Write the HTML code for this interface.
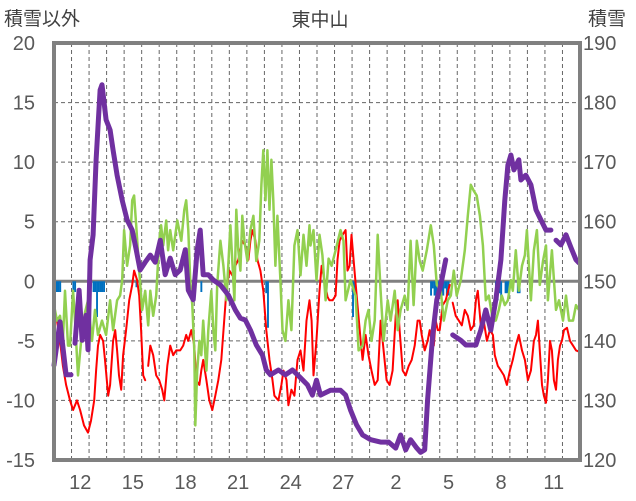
<!DOCTYPE html>
<html><head><meta charset="utf-8"><style>
html,body{margin:0;padding:0;background:#fff;}
svg{display:block;font-family:"Liberation Sans","Noto Sans CJK JP",sans-serif;}
</style></head><body>
<svg id="chart" width="636" height="501" viewBox="0 0 636 501" xmlns="http://www.w3.org/2000/svg">
<text x="320" y="26" font-size="19" fill="#404040" text-anchor="middle">東中山</text>
<text x="4" y="25" font-size="19" fill="#404040">積雪以外</text>
<text x="588" y="25" font-size="19" fill="#404040">積雪</text>
<g id="grid"></g>
<g id="marks"></g>
<g id="axes"></g>
</svg>
<script>
const dayLabels=["12","15","18","21","24","27","2","5","8","11"];
const dayLabelIdx=[1,4,7,10,13,16,19,22,25,28];
const leftTicks=[20,15,10,5,0,-5,-10,-15];
const rightTicks=[190,180,170,160,150,140,130,120];

const snowT=[0,0.34,0.69,0.97,null,1.2,1.43,1.6,1.83,1.94,2.06,2.23,2.4,2.63,2.74,2.97,3.2,3.37,3.6,3.89,4.17,4.46,4.69,4.91,5.2,5.49,5.77,6.06,6.34,6.63,6.91,7.2,7.49,7.66,7.94,8.17,8.34,8.51,8.8,9.09,9.49,9.94,10.34,10.63,10.91,11.2,11.54,11.89,12.11,12.34,12.8,13.2,13.6,14.06,14.46,14.74,14.97,15.2,15.77,16.34,16.63,16.91,17.26,17.6,18.06,18.63,19.09,19.49,19.77,20.06,20.34,20.69,20.91,21.14,21.31,21.6,21.83,22.06,22.34,null,22.74,23.2,23.49,24.06,24.34,24.63,24.91,25.2,25.49,25.71,25.89,26.06,26.23,26.51,26.63,26.91,27.2,27.49,27.77,28.06,28.34,null,28.63,28.91,29.2,29.49,29.77,29.94];
const snowV=[135.9,143.2,134.3,134.3,null,139.6,148.5,140.1,144.3,138.5,153.6,157.8,170.4,182.1,183.0,177.1,175.4,172.0,167.8,163.6,160.3,158.6,155.3,151.9,153.2,154.4,153.2,156.9,151.1,153.9,151.1,151.9,155.3,148.5,146.9,155.3,158.6,151.1,151.1,150.2,149.4,147.7,145.2,143.8,143.5,141.8,139.3,137.6,135.1,134.3,135.1,134.3,135.1,133.8,132.6,130.9,133.4,130.9,131.7,131.7,130.9,128.4,125.9,124.2,123.4,123.0,123.0,122.0,124.2,121.7,123.4,122.0,121.3,121.7,130.1,141.0,146.9,149.4,153.6,null,141.0,140.1,139.3,139.3,141.8,145.2,141.8,146.9,153.6,163.6,169.5,171.2,168.7,170.4,167.0,167.8,166.2,162.0,160.3,158.6,158.6,null,156.9,156.1,157.8,155.6,153.6,153.1];

const greenT=[0,.17,.34,.51,.63,.8,.91,1.09,1.2,1.37,1.6,1.77,1.94,2.17,2.34,2.51,2.74,2.97,3.2,3.37,3.6,3.77,3.89,4.0,4.17,4.34,4.46,4.57,4.69,4.86,5.03,5.2,5.37,5.49,5.66,5.83,6.0,6.11,6.23,6.4,6.51,6.63,6.8,7.03,7.26,7.43,7.54,7.66,7.77,7.89,8.0,8.06,8.17,8.29,8.4,8.51,8.69,8.8,8.97,9.09,9.2,9.31,9.49,9.66,9.83,10.06,10.29,10.4,10.51,10.63,10.74,10.86,11.03,11.2,11.37,11.54,11.71,11.83,11.94,12.06,12.17,12.29,12.4,12.51,12.63,12.74,12.91,13.03,13.2,13.37,13.54,13.71,13.89,14.06,14.23,14.4,14.57,14.63,14.8,14.97,15.14,15.31,15.49,15.66,15.83,16.06,16.34,16.51,16.63,16.91,17.2,17.37,17.6,17.77,17.94,18.11,18.29,18.46,18.63,18.8,19.03,19.2,19.43,19.6,19.77,20.0,20.17,20.34,20.51,20.69,20.86,21.03,21.26,21.49,21.66,21.83,22.06,22.23,22.46,22.63,22.8,22.97,23.2,23.43,23.6,23.77,23.94,24.11,24.29,24.46,24.63,24.8,25.03,25.2,25.37,25.54,25.71,25.89,26.06,26.17,26.34,26.51,26.69,26.86,26.97,27.2,27.37,27.54,27.71,27.89,28.06,28.17,28.4,28.63,28.8,29.03,29.2,29.37,29.6,29.77,29.94];
const greenV=[-2.0,-3.3,-2.9,-5.0,-0.8,-5.4,-5.4,-0.8,-3.3,-7.9,-4.1,-2.6,-1.6,-5.0,-2.4,-4.5,-3.3,-4.5,-1.6,-4.1,-1.6,-1.2,0.1,4.3,1.3,3.0,6.8,7.2,4.7,0.9,-2.4,-0.8,-3.7,-0.8,-2.9,-1.2,3.4,4.7,3.0,5.1,2.6,4.3,2.6,5.1,3.4,6.0,6.8,4.3,0.1,-2.0,-5.8,-12.1,-7.5,-5.0,-6.2,-3.3,-7.5,-4.1,-0.8,-4.1,-5.8,-0.3,3.4,1.3,-1.6,4.7,-1.6,6.0,2.6,0.9,5.5,3.4,1.7,4.3,5.5,1.7,3.4,8.1,11.0,6.8,11.0,6.0,10.2,6.8,1.3,5.5,0.1,-4.1,-5.0,-1.6,-4.1,3.0,4.3,0.5,3.9,1.3,4.7,3.0,4.3,0.1,3.9,2.2,-1.6,1.9,1.3,2.6,4.3,3.4,-1.6,0.1,-1.2,-5.8,-5.4,-3.3,-2.4,-5.0,-3.3,3.9,-0.8,-5.0,-1.6,-3.3,-0.8,-4.1,-2.4,-1.2,-2.4,3.4,-2.0,3.4,1.7,0.9,2.6,4.7,3.0,-0.3,-0.8,-3.3,-1.6,-1.2,0.9,-1.2,0.1,2.6,5.5,8.1,7.6,7.2,5.5,3.0,-1.6,-1.2,-3.3,-3.3,-2.4,-1.2,-2.0,-1.6,0.1,-0.8,2.6,-0.8,1.3,2.2,4.3,-1.6,2.6,4.3,-0.3,1.7,3.0,-1.6,2.6,-2.4,-1.6,-3.3,-1.2,-3.3,-3.3,-2.0,-2.4];

const redT=[0,.17,.34,.51,.69,.91,1.09,1.31,1.49,1.71,1.94,2.11,2.29,2.4,2.51,2.63,2.8,2.91,3.09,3.2,3.37,3.49,3.6,3.71,3.83,3.94,4.11,4.29,4.46,4.57,4.74,4.86,4.97,5.09,5.2,null,5.37,5.49,5.66,5.83,6.0,6.17,6.29,6.46,6.63,6.8,6.97,7.2,7.37,7.54,7.66,7.83,8.0,8.11,8.29,8.4,8.51,8.69,8.86,9.03,9.2,9.37,9.54,9.71,9.83,10.0,10.17,10.34,10.51,10.63,10.74,10.91,11.09,11.2,11.31,11.49,11.6,11.77,11.94,12.11,12.29,12.46,12.57,12.8,12.97,13.09,13.26,13.37,13.54,13.71,13.89,14.06,14.23,14.4,14.57,14.69,14.8,14.97,15.14,15.26,15.43,15.6,15.71,15.89,16.06,16.17,16.29,16.46,16.63,16.74,16.86,16.97,17.14,17.31,17.49,17.6,17.77,17.94,18.11,18.29,18.46,18.63,18.8,18.97,19.14,19.31,19.49,19.6,19.71,19.89,20.06,20.23,20.4,20.57,20.74,20.86,20.97,21.14,21.31,21.43,21.54,21.66,21.77,21.89,22.0,22.17,22.34,22.57,null,22.74,22.91,23.09,23.26,23.43,23.6,23.77,23.94,24.06,24.17,24.34,24.51,24.69,24.86,25.03,25.14,25.31,25.49,25.66,25.83,26.0,26.17,26.34,26.51,26.69,26.86,27.03,27.2,27.37,27.49,27.6,27.71,27.83,27.94,28.06,28.17,28.29,28.4,28.51,28.63,28.74,28.86,28.97,29.09,29.26,29.43,29.6,29.77,29.94];
const redV=[-2.4,-3.3,-5.0,-7.1,-8.7,-10.0,-10.8,-10.0,-10.8,-12.1,-12.7,-11.7,-10.0,-7.5,-5.4,-4.5,-5.0,-6.6,-9.6,-8.7,-5.0,-4.1,-5.8,-7.9,-9.1,-6.2,-4.1,-1.6,-0.3,0.9,0.1,-1.2,-4.1,-7.9,-8.3,null,-7.1,-5.4,-6.2,-7.9,-8.3,-9.1,-10.0,-7.1,-5.4,-6.2,-5.8,-5.8,-5.4,-4.5,-5.0,-4.1,-5.4,-8.3,-8.7,-7.5,-6.6,-8.3,-10.0,-10.8,-9.6,-8.3,-6.6,-3.3,-0.8,0.9,0.5,1.3,1.8,2.6,3.4,3.0,1.8,3.4,4.3,3.4,1.8,0.9,-0.8,-4.1,-6.6,-8.3,-9.6,-10.0,-8.7,-7.5,-8.3,-10.4,-9.1,-9.6,-6.6,-5.8,-7.5,-3.3,-1.6,-3.3,-7.9,-4.9,-0.8,1.3,0.1,-1.3,-1.6,-1.6,-1.2,1.8,3.4,3.9,4.3,0.9,1.3,3.9,0.9,-2.0,-5.0,-6.6,-4.5,-6.2,-7.5,-8.7,-8.3,-3.3,-5.8,-8.3,-8.7,-7.5,-2.9,-1.6,-4.1,-7.5,-7.9,-7.1,-6.6,-5.4,-3.3,-3.3,-4.5,-5.8,-5.0,-4.1,-5.0,-5.4,-3.3,-4.1,-4.1,-2.0,-1.6,-0.3,null,-1.8,-2.9,-3.3,-3.7,-2.4,-2.9,-4.1,-3.7,-1.6,-0.8,-3.7,-3.3,-5.0,-4.1,-4.5,-6.2,-7.1,-7.5,-7.9,-8.7,-7.5,-6.6,-5.4,-4.5,-5.8,-6.6,-8.3,-7.5,-5.0,-4.5,-3.3,-5.8,-8.7,-9.6,-10.2,-8.3,-5.0,-5.8,-8.3,-9.1,-6.6,-5.4,-5.0,-4.1,-3.9,-5.0,-5.4,-5.8,-5.9];

const precipT=[0,0.1,0.2,0.3,1.05,1.15,2.2,2.3,2.4,2.5,2.6,2.7,2.8,4.65,8.35,12.05,12.15,17.0,17.1,21.45,21.55,21.65,21.75,21.85,21.95,22.05,22.15,22.25,22.35,22.45,25.15,25.25,25.35,25.45,25.7,25.8,25.9,26.4,26.5];
const precipV=[-0.9,-0.9,-0.9,-0.9,-0.9,-0.9,-0.9,-0.9,-3.0,-0.9,-0.9,-0.9,-0.9,-0.5,-0.9,-1.0,-3.9,-3.0,-1.0,-1.2,-0.6,-1.2,-2.0,-1.2,-0.6,-1.2,-1.2,-0.6,-1.2,-1.2,-1.6,-1.6,-1.0,-1.6,-1.0,-1.0,-1.0,-1.0,-1.0];

const X0=54,X1=580,Y0=43,Y1=460,DAYS=30;
function xs(t){return X0+t*(X1-X0)/DAYS;}
function yL(v){return Y1-(v+15)*(Y1-Y0)/35;}
function yR(v){return Y1-(v-120)*(Y1-Y0)/70;}
const NS="http://www.w3.org/2000/svg";
function mk(tag,attrs,parent){const e=document.createElementNS(NS,tag);for(const k in attrs)e.setAttribute(k,attrs[k]);parent.appendChild(e);return e;}
const grid=document.getElementById('grid'),marks=document.getElementById('marks'),axes=document.getElementById('axes');

for(let d=1;d<DAYS;d++){
  const l=mk('line',{x1:xs(d),x2:xs(d),y1:Y0,y2:Y1,stroke:'#666','stroke-width':1,'stroke-dasharray':'4,3'},grid);
  
  
}
leftTicks.forEach(v=>{
  if(v!==20&&v!==-15&&v!==0){
    const l=mk('line',{x1:X0,x2:X1,y1:yL(v),y2:yL(v),stroke:'#666','stroke-width':1,'stroke-dasharray':'4,3'},grid);
    
    
  }
});

function path(T,V,yf,color,w,name){
  let d='',pen=false;
  for(let i=0;i<T.length;i++){
    if(T[i]===null||V[i]===null){pen=false;continue;}
    d+=(pen?'L':'M')+xs(T[i]).toFixed(1)+' '+yf(V[i]).toFixed(1);pen=true;
  }
  const p=mk('path',{d:d,fill:'none',stroke:color,'stroke-width':w,'stroke-linejoin':'round','stroke-linecap':'round'},marks);
  
  
}
// zero line
const z=mk('line',{x1:X0,x2:X1,y1:yL(0),y2:yL(0),stroke:'#808080','stroke-width':3},marks);


precipT.forEach((t,i)=>{
  const y0=yL(0),y1=yL(precipV[i]);
  const r=mk('rect',{x:xs(t),y:y0,width:1.9,height:y1-y0,fill:'#0070C0'},marks);
  
  
});
path(redT,redV,yL,'#FF0000',2,'red-series-line');
path(greenT,greenV,yL,'#92D050',2.5,'green-series-line');
path(snowT,snowV,yR,'#7030A0',5,'snow-depth-line');

const fr=mk('rect',{x:X0,y:Y0,width:X1-X0,height:Y1-Y0,fill:'none',stroke:'#808080','stroke-width':4},axes);


leftTicks.forEach(v=>{
  const t=mk('text',{x:35,y:yL(v)+7,'font-size':20,fill:'#595959','text-anchor':'end'},axes);
  t.textContent=v;
  
  
});
rightTicks.forEach(v=>{
  const t=mk('text',{x:583,y:yR(v)+7,'font-size':20,fill:'#595959'},axes);
  t.textContent=v;
  
  
});
dayLabels.forEach((s,i)=>{
  const t=mk('text',{x:xs(dayLabelIdx[i]+0.5),y:489,'font-size':20,fill:'#595959','text-anchor':'middle'},axes);
  t.textContent=s;
  
  
});
</script>
</body></html>
